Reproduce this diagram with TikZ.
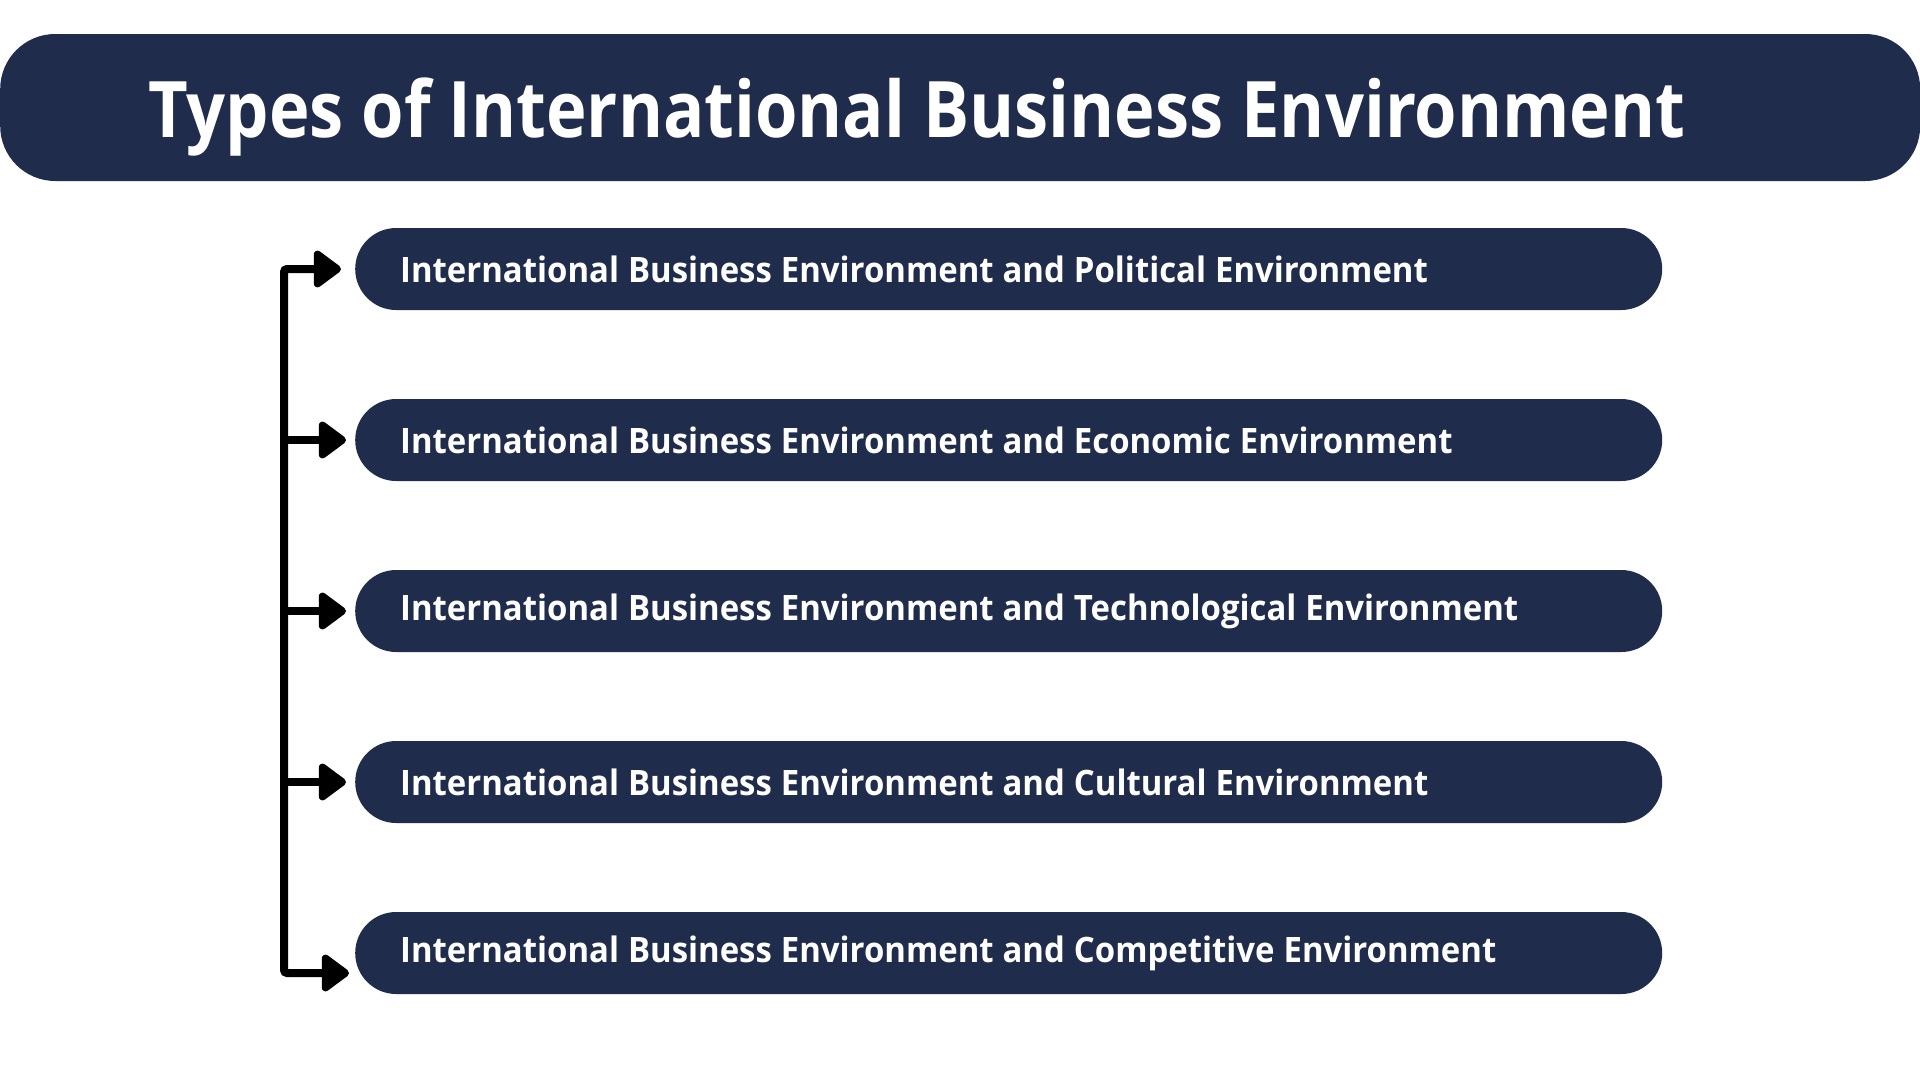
\documentclass[tikz,border=0pt]{standalone}
\usepackage{fontspec}
\setmainfont{Open Sans}
\newfontfamily\titlefont[FakeStretch=0.88]{Open Sans}
\newfontfamily\boxfont[FakeStretch=0.94]{Open Sans}
\usetikzlibrary{arrows.meta}
\definecolor{navy}{HTML}{1F2C4C}
\tikzstyle{titlebar} = [fill=navy, text=white, rounded corners=55pt, minimum height=147pt, text depth=0pt,
  text width=1624pt, inner xsep=148pt, align=left, font={\titlefont\fontsize{78}{90}\selectfont\bfseries},
  execute at begin node={\spaceskip=18pt\relax}]
\tikzstyle{envbox} = [fill=navy, text=white, rounded corners=41pt, minimum height=82pt,
  text width=1217pt, inner xsep=45pt, align=left, font={\boxfont\fontsize{35}{40}\selectfont\bfseries},
  execute at begin node={\spaceskip=9pt\relax}]
\tikzstyle{conn} = [line width=8pt, >={Triangle[length=30pt,width=42pt,round]}, ->]

\begin{document}
\begin{tikzpicture}[x=1pt,y=-1pt]
    \useasboundingbox[fill=white] (0,0) rectangle (1920,1080);
    \node[titlebar,anchor=west](title) at (0,107.5){Types of International Business Environment};
    \node[envbox,anchor=west](b1) at (355,269){International Business Environment and Political Environment};
    \node[envbox,anchor=west](b2) at (355,440){International Business Environment and Economic Environment};
    \node[envbox,anchor=west](b3) at (355,611){International Business Environment and Technological Environment};
    \node[envbox,anchor=west](b4) at (355,782){International Business Environment and Cultural Environment};
    \node[envbox,anchor=west](b5) at (355,953){International Business Environment and Competitive Environment};
    \coordinate (bot) at (284,973);
    \draw[conn,<->,rounded corners=3pt]
      ([xshift=-14]b1.west) -| (bot) -- ([xshift=-6]b5.west |- bot);
    \foreach \b in {b2,b3,b4}
      \draw[conn] (\b.west -| bot) -- ([xshift=-9]\b.west);
  \end{tikzpicture}
\end{document}
